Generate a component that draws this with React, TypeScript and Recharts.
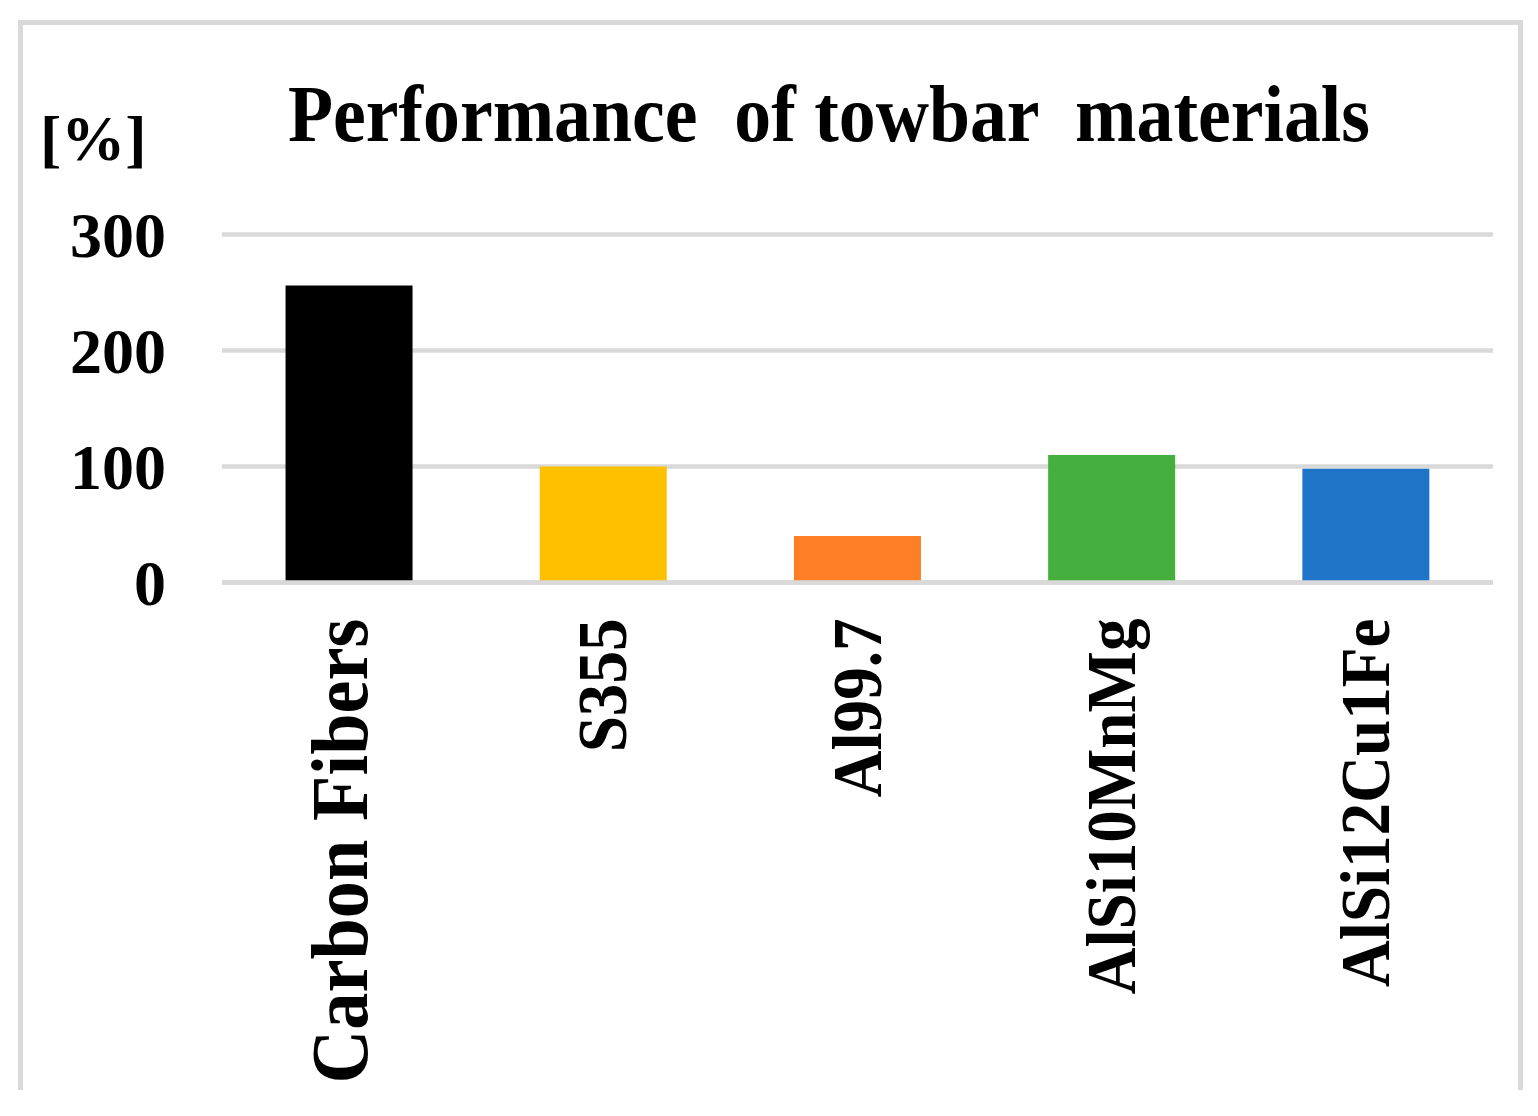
import React from "react";
import { BarChart, Bar, XAxis, YAxis, CartesianGrid, Cell } from "recharts";

const categories = ["Carbon Fibers", "S355", "Al99.7", "AlSi10MnMg", "AlSi12Cu1Fe"];
const performance = [256, 100, 40, 110, 98];
const barColors = ["#000000", "#FFC000", "#FF7F27", "#44AF3C", "#1E74C8"];
const yTicks = [0, 100, 200, 300];
const titleText = "Performance  of towbar  materials";
const unitText = "[%]";

const data = categories.map((name, i) => ({ name, value: performance[i] }));

const FONT = "'Liberation Serif', 'Times New Roman', serif";

const YTick = (props: any) => {
  const { y, payload } = props;
  return (
    <text
      x={166}
      y={y}
      dy={22}
      textAnchor="end"
      fontFamily={FONT}
      fontWeight="bold"
      fontSize={64}
      fill="#000"
    >
      {payload.value}
    </text>
  );
};

const XTick = (props: any) => {
  const { x, y, payload, index } = props;
  const fs = index === 0 ? 80 : 70;
  return (
    <g transform={`translate(${x},${y + 36})`}>
      <text
        x={0}
        y={index === 0 ? 18 : 0.33 * fs}
        textAnchor="end"
        transform="rotate(-90) scale(0.93 1)"
        fontFamily={FONT}
        fontWeight="bold"
        fontSize={fs}
        fill="#000"
      >
        {payload.value}
      </text>
    </g>
  );
};

export default function App() {
  return (
    <div style={{ position: "absolute", left: 0, top: 0, width: 1538, height: 1116, background: "#fff" }}>
      <BarChart
        width={1538}
        height={1116}
        data={data}
        margin={{ top: 234.5, right: 45, bottom: 0, left: 0 }}
        barCategoryGap="25%"
      >
        <CartesianGrid horizontal vertical={false} stroke="#d9d9d9" strokeWidth={4.5} />
        <YAxis
          width={222}
          domain={[0, 300]}
          ticks={yTicks}
          axisLine={false}
          tickLine={false}
          tick={<YTick />}
          interval={0}
        />
        <XAxis
          dataKey="name"
          height={533.5}
          axisLine={{ stroke: "#d9d9d9", strokeWidth: 4.5 }}
          tickLine={false}
          tickSize={0}
          tickMargin={0}
          tick={<XTick />}
          interval={0}
        />
        <Bar dataKey="value" isAnimationActive={false}>
          {data.map((d, i) => (
            <Cell key={d.name} fill={barColors[i]} />
          ))}
        </Bar>
      </BarChart>
      <svg
        width={1538}
        height={1116}
        style={{ position: "absolute", left: 0, top: 0, pointerEvents: "none" }}
      >
        <path d="M20.5 1090 V22.5 H1520.5 V1090" fill="none" stroke="#d9d9d9" strokeWidth={5} />
        <text
          x={288}
          y={141}
          fontFamily={FONT}
          fontWeight="bold"
          fontSize={80}
          textLength={1082}
          lengthAdjust="spacingAndGlyphs"
          style={{ whiteSpace: "pre" }}
          fill="#000"
        >
          {titleText}
        </text>
        <text x={40} y={160} fontFamily={FONT} fontWeight="bold" fontSize={64} fill="#000">
          {unitText}
        </text>
      </svg>
    </div>
  );
}
